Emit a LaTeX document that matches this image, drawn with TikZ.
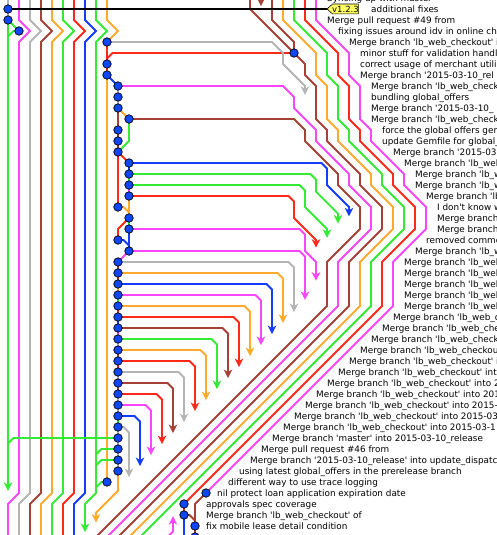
\documentclass[tikz,border=0pt]{standalone}
\usepackage{fontspec}
\setmainfont{DejaVu Sans}
\usetikzlibrary{arrows.meta}
\definecolor{cmag}{RGB}{250,70,250}
\definecolor{cgray}{RGB}{180,180,180}
\definecolor{cbrown}{RGB}{165,65,55}
\definecolor{corange}{RGB}{255,170,45}
\definecolor{cgreen}{RGB}{50,235,50}
\definecolor{cred}{RGB}{255,40,25}
\definecolor{cblue}{RGB}{20,60,255}
\definecolor{dotblue}{RGB}{15,70,245}
\definecolor{tagyellow}{RGB}{255,255,100}
\newcommand\sq{\textquotesingle}
\begin{document}
\begin{tikzpicture}[x=11pt,y=-11pt,
  ln/.style={line width=1.9pt},
  arr/.style={line width=1.9pt,-{Stealth[length=8.5pt,width=8.5pt,inset=2.5pt]}},
  cdot/.style={circle,draw=black,line width=0.7pt,fill=dotblue,inner sep=0pt,minimum size=8.5pt},
  msg/.style={anchor=base west,inner sep=0pt,font=\fontsize{8.85}{10}\selectfont}]
\useasboundingbox (-0.72727,-0.81818) rectangle (44.36364,47.81818);
\clip (-0.72727,-0.81818) rectangle (44.36364,47.81818);
% commit positions (lane,row)
\foreach \la/\ro in {0/0,0/1,1/2,9/3,26/4,9/5,9/6,10/7,10/8,10/9,11/10,10/11,10/12,10/13,11/14,11/15,11/16,11/17,10/18,11/19,11/20,10/21,11/22,
  10/23,10/24,10/25,10/26,10/27,10/28,10/29,10/30,10/31,10/32,10/33,10/34,10/35,10/36,10/37,10/38,10/39,10/40,10/41,10/42,
  9/43,18/44,16/45,16/46,17/47,17/48}
  \coordinate (p\ro) at (\la,\ro);
% lane 0
\draw[ln,cgray] (0,-1) -- (p0) -- (p1);
\draw[arr,cgreen] (p1) -- (0,43.8);
\draw[ln,cgreen] (p1) -- (p2) -- (0.5,2) -- (0,2.5);
% lanes 1-8
\foreach \j/\col in {1/cmag,2/cgray,3/cbrown,4/corange,5/cgreen,6/cred,7/cblue}
  \draw[ln,\col] (\j,-1) -- (\j,1) -- (\j+1,2) -- (\j,3) -- (\j,44) -- (\j-1,45) -- (\j-1,48.5);
\draw[arr,cgreen] (8,-1) -- (8,1) -- (9,2) -- (8,3) -- (8,44) -- (7,45) -- (7,47.55);
% lane 9
\draw[ln,corange] (9,-1) -- (9,1) -- (10,2) -- (p3);
\draw[ln,cred] (p3) -- (p5) -- (p6);
\draw[ln,cred] (p5) -- (9,4.5) -- (9.5,4) -- (p4);
\draw[ln,corange] (p6) -- (p43);
\draw[ln,cblue] (p6) -- (p7);
\draw[arr,cgray] (p3) -- (24,3) -- (25,4) -- (25,5) -- (27,7) -- (27,7.8);
% lanes 10/11 upper part
\draw[ln,cgray] (p7) -- (p8) -- (p9);
\draw[ln,cbrown] (p9) -- (p11) -- (p12) -- (p13);
\draw[ln,corange] (p9) -- (p10);
\draw[ln,cgreen] (p10) -- (11,12) -- (p13);
\draw[ln,cred] (p13) -- (p18);
\draw[ln,cred] (p13) -- (p14);
\draw[ln,cblue] (p14) -- (p15);
\draw[ln,cgreen] (p15) -- (p16);
\draw[ln,cmag] (p16) -- (p17);
\draw[ln,corange] (p17) -- (p19);
\draw[ln,corange] (p18) -- (10.5,18) -- (11,18.5);
\draw[ln,cgreen] (p19) -- (p20);
\draw[ln,cblue] (p20) -- (p22);
\draw[ln,cred] (p19) -- (10,20) -- (p21);
\draw[ln,cblue] (p21) -- (10.5,21) -- (11,21.5);
\draw[ln,cmag] (p22) -- (p23);
% lane 10 lower column
\foreach \ra/\rb/\col in {23/24/cbrown,24/25/cbrown,25/26/corange,26/27/cgreen,27/28/cred,28/29/cblue,29/30/cmag,30/31/cgray,
  31/32/cbrown,32/33/cred,33/34/cgray,34/35/cbrown,35/36/cgray,36/37/cgray,37/38/cgreen,38/39/cgray,39/40/cgray,40/41/cgray,41/42/cgray}
  \draw[ln,\col] (p\ra) -- (p\rb);
\draw[arr,corange] (p42) -- (10,43.8) -- (8,45.8) -- (8,46.7);
\draw[ln,cgreen] (p39) -- (0.5,39) -- (0,39.5);
\draw[ln,cgreen] (p40) -- (8.5,40) -- (8,40.5);
\draw[ln,cgreen] (p41) -- (8.5,41) -- (8,41.5);
\draw[ln,cgreen] (p43) -- (8.5,43) -- (8,43.5);
% branches joining the right bundle
\draw[ln,cmag] (p7) -- (25,7) -- (26,8) -- (26,9) -- (28,11) -- (28,12) -- (31,15) -- (31,16) -- (33,18) -- (33,20) -- (30,23) -- (30,27) -- (7,50);
\draw[ln,cbrown] (p10) -- (26,10) -- (27,11) -- (27,12) -- (30,15) -- (30,16) -- (32,18) -- (32,20) -- (29,23) -- (29,27) -- (6,50);
% bundle from the top
\draw[ln,cmag] (28,-1) -- (28,1) -- (31,4) -- (31,6) -- (32,7) -- (32,10) -- (33,11) -- (33,12) -- (36,15) -- (36,16) -- (38,18) -- (38,20) -- (35,23) -- (35,27) -- (p44);
\draw[ln,cred] (27,-1) -- (27,1) -- (30,4) -- (30,6) -- (31,7) -- (31,10) -- (32,11) -- (32,12) -- (35,15) -- (35,16) -- (37,18) -- (37,20) -- (34,23) -- (34,27) -- (p45);
\draw[ln,cgreen] (26,-1) -- (26,1) -- (29,4) -- (29,6) -- (30,7) -- (30,10) -- (31,11) -- (31,12) -- (34,15) -- (34,16) -- (36,18) -- (36,20) -- (33,23) -- (33,27) -- (10,50);
\draw[ln,corange] (25,-1) -- (25,1) -- (28,4) -- (28,6) -- (29,7) -- (29,10) -- (30,11) -- (30,12) -- (33,15) -- (33,16) -- (35,18) -- (35,20) -- (32,23) -- (32,27) -- (9,50);
\draw[ln,cbrown] (22,-1) -- (22,0) -- (26,4) -- (27,5) -- (27,6) -- (28,7) -- (28,10) -- (29,11) -- (29,12) -- (32,15) -- (32,16) -- (34,18) -- (34,20) -- (31,23) -- (31,27) -- (8,50);
\draw[ln,cbrown] (24,-1) -- (24,1) -- (26,3) -- (p4);
\draw[arr,cbrown] (23,-1.2) -- (23,-0.27);
% middle arrows
\draw[arr,cblue] (p14) -- (28.5,14) -- (29,14.5) -- (29,16) -- (31,18) -- (31,18.85);
\draw[arr,cgreen] (p15) -- (27.5,15) -- (28,15.5) -- (28,16.6) -- (30,18.6) -- (30,19.5);
\draw[arr,cgreen] (p16) -- (26.5,16) -- (27,16.5) -- (27,18) -- (29,20) -- (29,20.8);
\draw[arr,cred] (p17) -- (25.5,17) -- (26,17.5) -- (26,19) -- (28,21) -- (28,21.7);
\draw[arr,cmag] (p20) -- (26.5,20) -- (27,20.5) -- (27,22) -- (28,23) -- (28,24.7);
\draw[arr,cmag] (p22) -- (26.5,22) -- (27,22.5) -- (27,26.45);
\foreach \k/\col in {23/cgray,24/corange,25/cblue,26/cmag,27/corange,28/cred,29/cbrown,30/cgreen,31/corange,32/cred,33/cgray,34/cbrown,35/cred,36/cmag,37/cblue,38/cgray}
  \draw[arr,\col] (p\k) -- ({48.5-\k},\k) -- ({49-\k},{\k+0.5}) -- ({49-\k},{\k+4.55});
% bottom right
\draw[ln,cbrown] (p44) -- (17,45) -- (p47);
\draw[ln,cred] (p45) -- (p46);
\draw[ln,cblue] (p46) -- (16,49);
\draw[ln,cbrown] (p46) -- (16.5,46) -- (17,46.5);
\draw[ln,cbrown] (p47) -- (p48);
\draw[arr,cmag] (13,49.5) -- (15,47.5) -- (15,46.1);
% tag line
\draw[line width=1.9pt,black] (p0) -- (29,0);
\draw[fill=tagyellow,line width=0.6pt,line join=round] (29,0) -- (29.5,-0.45) -- (31.85,-0.45) -- (31.85,0.45) -- (29.5,0.45) -- cycle;
\node[font=\fontsize{8.5}{9}\selectfont,inner sep=0pt] (tag) at (30.68,0.02) {v1.2.3};
% commits
\foreach \k in {0,...,48} \node[cdot] (d\k) at (p\k) {};
% messages
\node[msg] (m-1) at (29,-0.71) {Syncing up with master};
\node[msg] (m0) at (33,0.29) {additional fixes};
\node[msg] (m1) at (29,1.29) {Merge pull request \#49 from};
\node[msg] (m2) at (30,2.29) {fixing issues around idv in online ch};
\node[msg] (m3) at (31,3.29) {Merge branch \sq lb\_web\_checkout\sq\ i};
\node[msg] (m4) at (32,4.29) {minor stuff for validation handl};
\node[msg] (m5) at (32,5.29) {correct usage of merchant utili};
\node[msg] (m6) at (32,6.29) {Merge branch \sq 2015-03-10\_rel};
\node[msg] (m7) at (33,7.29) {Merge branch \sq lb\_web\_check};
\node[msg] (m8) at (33,8.29) {bundling global\_offers};
\node[msg] (m9) at (33,9.29) {Merge branch \sq 2015-03-10\_};
\node[msg] (m10) at (33,10.29) {Merge branch \sq lb\_web\_check};
\node[msg] (m11) at (34,11.29) {force the global offers ger};
\node[msg] (m12) at (34,12.29) {update Gemfile for global\_};
\node[msg] (m13) at (35,13.29) {Merge branch \sq 2015-03};
\node[msg] (m14) at (36,14.29) {Merge branch \sq lb\_web};
\node[msg] (m15) at (37,15.29) {Merge branch \sq lb\_w};
\node[msg] (m16) at (37,16.29) {Merge branch \sq lb\_w};
\node[msg] (m17) at (38,17.29) {Merge branch \sq lb};
\node[msg] (m18) at (39,18.29) {I don\sq t know w};
\node[msg] (m19) at (39,19.29) {Merge branch};
\node[msg] (m20) at (39,20.29) {Merge branch};
\node[msg] (m21) at (38,21.29) {removed commo};
\node[msg] (m22) at (37,22.29) {Merge branch \sq lb\_w};
\node[msg] (m23) at (36,23.29) {Merge branch \sq lb\_web};
\node[msg] (m24) at (36,24.29) {Merge branch \sq lb\_web};
\node[msg] (m25) at (36,25.29) {Merge branch \sq lb\_web};
\node[msg] (m26) at (36,26.29) {Merge branch \sq lb\_web};
\node[msg] (m27) at (36,27.29) {Merge branch \sq lb\_web};
\node[msg] (m28) at (35,28.29) {Merge branch \sq lb\_web\_c};
\node[msg] (m29) at (34,29.29) {Merge branch \sq lb\_web\_che};
\node[msg] (m30) at (33,30.29) {Merge branch \sq lb\_web\_check};
\node[msg] (m31) at (32,31.29) {Merge branch \sq lb\_web\_checkou};
\node[msg] (m32) at (31,32.29) {Merge branch \sq lb\_web\_checkout\sq\ i};
\node[msg] (m33) at (30,33.29) {Merge branch \sq lb\_web\_checkout\sq\ into};
\node[msg] (m34) at (29,34.29) {Merge branch \sq lb\_web\_checkout\sq\ into 2};
\node[msg] (m35) at (28,35.29) {Merge branch \sq lb\_web\_checkout\sq\ into 201};
\node[msg] (m36) at (27,36.29) {Merge branch \sq lb\_web\_checkout\sq\ into 2015-};
\node[msg] (m37) at (26,37.29) {Merge branch \sq lb\_web\_checkout\sq\ into 2015-03};
\node[msg] (m38) at (25,38.29) {Merge branch \sq lb\_web\_checkout\sq\ into 2015-03-1};
\node[msg] (m39) at (24,39.29) {Merge branch \sq master\sq\ into 2015-03-10\_release};
\node[msg] (m40) at (23,40.29) {Merge pull request \#46 from};
\node[msg] (m41) at (22,41.29) {Merge branch \sq 2015-03-10\_release\sq\ into update\_dispatc};
\node[msg] (m42) at (21,42.29) {using latest global\_offers in the prerelease branch};
\node[msg] (m43) at (20,43.29) {different way to use trace logging};
\node[msg] (m44) at (19,44.29) {nil protect loan application expiration date};
\node[msg] (m45) at (18,45.29) {approvals spec coverage};
\node[msg] (m46) at (18,46.29) {Merge branch \sq lb\_web\_checkout\sq\ of};
\node[msg] (m47) at (18,47.29) {fix mobile lease detail condition};
\end{tikzpicture}
\end{document}
